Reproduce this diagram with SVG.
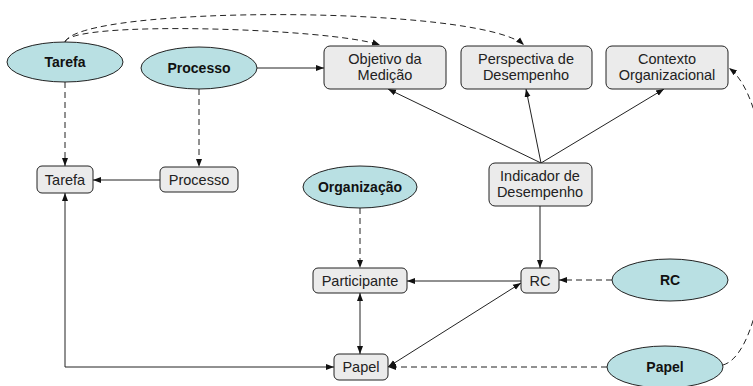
<svg xmlns="http://www.w3.org/2000/svg" width="753" height="386" viewBox="0 0 753 386">
<style>
  .box { fill: #ebebeb; stroke: #222; stroke-width: 1; }
  .ell { fill: #b9e0e3; stroke: #222; stroke-width: 1; }
  .t { font-family: "Liberation Sans", Arial, sans-serif; font-size: 14.5px; fill: #222; text-anchor: middle; }
  .tb { font-family: "Liberation Sans", Arial, sans-serif; font-size: 14px; font-weight: bold; fill: #111; text-anchor: middle; }
  .ln { fill: none; stroke: #222; stroke-width: 1; }
  .dash { stroke-dasharray: 6 4; }
  .end { marker-end: url(#ah); }
  .both { marker-start: url(#as); marker-end: url(#ah); }
</style>
<defs>
  <marker id="ah" viewBox="0 0 8 8" refX="8" refY="4" markerWidth="8" markerHeight="8" markerUnits="userSpaceOnUse" orient="auto">
    <path d="M0,1 L8,4 L0,7 Z" fill="#111"/>
  </marker>
  <marker id="as" viewBox="0 0 8 8" refX="0" refY="4" markerWidth="8" markerHeight="8" markerUnits="userSpaceOnUse" orient="auto">
    <path d="M8,1 L0,4 L8,7 Z" fill="#111"/>
  </marker>
</defs>
<rect width="753" height="386" fill="#fff"/>

<g id="connectors">
  <!-- dashed curves from Tarefa over the top -->
  <path class="ln dash end" d="M65,42 C70,20 330,28 380,45"/>
  <path class="ln dash end" d="M65,42 C80,5 480,5 524,45"/>
  <path class="ln dash end" d="M65,82 L65,166"/>
  <path class="ln dash end" d="M199,89 L199,167"/>
  <path class="ln end" d="M160,180 L93,180"/>
  <path class="ln end" d="M257,68 L324,68"/>
  <path class="ln end" d="M541,163 L388,89"/>
  <path class="ln end" d="M541,163 L526,89"/>
  <path class="ln end" d="M541,163 L664,89"/>
  <path class="ln end" d="M540,206 L540,268"/>
  <path class="ln dash end" d="M360,208 L360,268"/>
  <path class="ln end" d="M521,281 L407,281"/>
  <path class="ln dash end" d="M612,280 L559,280"/>
  <path class="ln both" d="M360,293 L360,354"/>
  <path class="ln both" d="M388,367 L521,283"/>
  <path class="ln dash end" d="M607,367 L388,367"/>
  <path class="ln both" d="M334,367 L65,367 L65,193"/>
  <!-- this curve runs past the right edge and is clipped there -->
  <path class="ln dash end" d="M723,365 C775,350 785,110 729,68"/>
</g>

<g id="n-tarefa-e"><ellipse class="ell" cx="65" cy="62" rx="58" ry="20"/><text class="tb" x="65" y="67">Tarefa</text></g>
<g id="n-processo-e"><ellipse class="ell" cx="199" cy="68" rx="58" ry="21"/><text class="tb" x="199" y="73">Processo</text></g>
<g id="n-objetivo"><rect class="box" x="324" y="46" width="122" height="43" rx="6"/><text class="t" x="385" y="64">Objetivo da</text><text class="t" x="385" y="80">Medição</text></g>
<g id="n-perspectiva"><rect class="box" x="461" y="46" width="131" height="43" rx="6"/><text class="t" x="526" y="64">Perspectiva de</text><text class="t" x="526" y="80">Desempenho</text></g>
<g id="n-contexto"><rect class="box" x="606" y="46" width="122" height="43" rx="6"/><text class="t" x="667" y="64">Contexto</text><text class="t" x="667" y="80">Organizacional</text></g>
<g id="n-tarefa"><rect class="box" x="37" y="166" width="56" height="27" rx="5"/><text class="t" x="65" y="185">Tarefa</text></g>
<g id="n-processo"><rect class="box" x="160" y="167" width="78" height="25" rx="5"/><text class="t" x="199" y="185">Processo</text></g>
<g id="n-organizacao-e"><ellipse class="ell" cx="360" cy="187" rx="57" ry="21"/><text class="tb" x="360" y="192">Organização</text></g>
<g id="n-indicador"><rect class="box" x="489" y="163" width="103" height="43" rx="6"/><text class="t" x="540" y="181">Indicador de</text><text class="t" x="540" y="197">Desempenho</text></g>
<g id="n-participante"><rect class="box" x="313" y="268" width="94" height="25" rx="5"/><text class="t" x="360" y="286">Participante</text></g>
<g id="n-rc"><rect class="box" x="521" y="268" width="38" height="25" rx="5"/><text class="t" x="540" y="286">RC</text></g>
<g id="n-rc-e"><ellipse class="ell" cx="670" cy="280" rx="58" ry="21"/><text class="tb" x="670" y="285">RC</text></g>
<g id="n-papel"><rect class="box" x="334" y="354" width="54" height="26" rx="5"/><text class="t" x="361" y="372">Papel</text></g>
<g id="n-papel-e"><ellipse class="ell" cx="665" cy="367" rx="58" ry="21"/><text class="tb" x="665" y="372">Papel</text></g>
</svg>
